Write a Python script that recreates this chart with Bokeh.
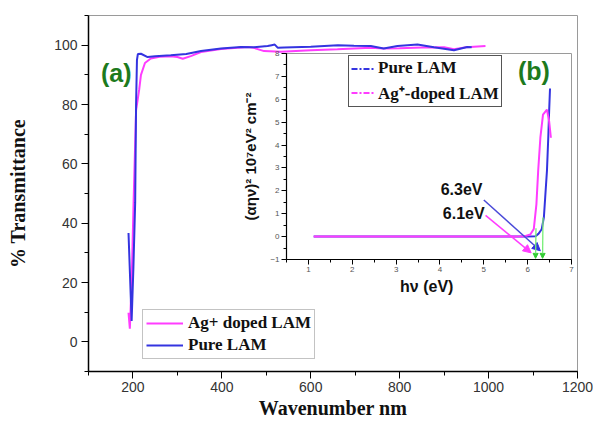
from bokeh.plotting import figure
from bokeh.models import (Range1d, SingleIntervalTicker, Legend, LegendItem, Label,
                          Arrow, NormalHead)
from bokeh.layouts import column
from bokeh.embed import file_html
from bokeh.resources import INLINE

# ---------------- main panel data (a) ----------------
pure_w = [190, 197, 201, 205, 207, 209, 211, 218, 233, 250, 285, 320, 353, 398, 443, 472,
          503, 512, 519, 526, 540, 600, 661, 697, 735, 764, 795, 840, 877, 922, 952, 962]
pure_t = [36.7, 7.0, 25.0, 47.0, 80.0, 95.0, 97.0, 97.1, 96.0, 96.3, 96.6, 97.0, 98.0, 98.9,
          99.4, 99.3, 99.7, 100.0, 100.2, 99.1, 99.2, 99.5, 100.0, 99.8, 99.7, 98.9, 99.7,
          100.2, 99.3, 98.3, 99.4, 99.3]
ag_w = [190, 193, 197, 201.5, 207, 211, 214, 218, 227, 240, 260, 285, 300, 312, 330, 353,
        398, 435, 458, 472, 495, 533, 600, 660, 735, 764, 800, 850, 900, 922, 950, 993]
ag_t = [9.8, 4.4, 20.0, 47.5, 78.0, 82.0, 85.0, 90.0, 94.0, 95.5, 96.1, 96.3, 96.0, 95.4,
        96.3, 97.7, 98.7, 99.1, 99.4, 99.1, 98.0, 97.8, 98.3, 98.6, 99.1, 98.9, 99.0, 99.2,
        99.3, 98.6, 99.3, 99.7]

# ---------------- inset data (b) ----------------
pure_e = [1.12, 2.0, 3.0, 4.0, 5.0, 6.0, 6.18, 6.25, 6.32, 6.37, 6.40, 6.44, 6.47, 6.49, 6.51]
pure_v = [0.0, 0.0, 0.0, 0.0, 0.0, 0.0, 0.02, 0.13, 0.32, 0.84, 1.71, 2.87, 4.32, 5.48, 6.47]
ag_e = [1.12, 2.0, 3.0, 4.0, 5.0, 5.9, 6.06, 6.14, 6.20, 6.24, 6.29, 6.35, 6.44, 6.49, 6.53]
ag_v = [0.0, 0.0, 0.0, 0.0, 0.0, 0.0, 0.09, 0.33, 1.42, 2.87, 4.32, 5.33, 5.55, 5.04, 4.32]

gap_labels = ["6.3eV", "6.1eV"]
gap_label_x = [4.97, 5.02]
gap_label_y = [2.07, 0.99]
arrow_x0 = [5.0, 5.04]
arrow_y0 = [1.6, 0.93]
arrow_x1 = [6.29, 6.08]
arrow_y1 = [-0.62, -0.71]
tan_x0 = [6.19, 6.35]
tan_y0 = [0.37, 0.84]
tan_x1 = [6.18, 6.34]
tan_y1 = [-0.95, -0.95]

BLUE = "#3434e0"
MAG = "#ff3cff"
GREEN = "#1d7a1d"
LGREEN = "#77ee77"

# ---------------- main figure ----------------
main = figure(width=593, height=425, output_backend="svg", toolbar_location=None,
              x_range=Range1d(100, 1200), y_range=Range1d(-10, 110),
              min_border_left=88, min_border_right=16, min_border_top=15,
              min_border_bottom=54)
main.xgrid.visible = False
main.ygrid.visible = False
main.outline_line_color = "#9a9a9a"
main.background_fill_color = "white"
main.border_fill_color = "white"

main.xaxis.ticker = SingleIntervalTicker(interval=200, num_minor_ticks=2)
main.yaxis.ticker = SingleIntervalTicker(interval=20, num_minor_ticks=2)
for ax in (main.xaxis[0], main.yaxis[0]):
    ax.axis_line_color = "black"
    ax.axis_line_width = 1.5
    ax.major_tick_line_color = "black"
    ax.minor_tick_line_color = "black"
    ax.major_tick_out = 7
    ax.major_tick_in = 0
    ax.minor_tick_out = 4
    ax.minor_tick_in = 0
    ax.major_label_text_font = "Liberation Sans"
    ax.major_label_text_font_size = "14px"
    ax.major_label_text_color = "#333333"
    ax.axis_label_text_font = "Liberation Serif"
    ax.axis_label_text_font_style = "bold"
    ax.axis_label_text_font_size = "20px"
    ax.axis_label_text_color = "#111111"
main.xaxis.axis_label = "Wavenumber nm"
main.yaxis.axis_label = "% Transmittance"
main.xaxis.major_label_standoff = 3
main.xaxis.axis_label_standoff = 2
main.yaxis.major_label_standoff = 4
main.yaxis.axis_label_standoff = 22

r_ag = main.line(ag_w, ag_t, line_color=MAG, line_width=2)
r_pure = main.line(pure_w, pure_t, line_color=BLUE, line_width=2)

leg_main = Legend(items=[LegendItem(label="Ag+ doped LAM", renderers=[r_ag]),
                         LegendItem(label="Pure LAM", renderers=[r_pure])],
                  location=(54, 12), orientation="vertical",
                  glyph_width=37, glyph_height=18, label_height=18, label_standoff=5,
                  spacing=2, padding=3, margin=0,
                  label_text_font="Liberation Serif", label_text_font_style="bold",
                  label_text_font_size="17px", label_text_color="#111111",
                  border_line_color="#888888", border_line_width=1,
                  background_fill_color="white", background_fill_alpha=1.0)
main.add_layout(leg_main)

main.add_layout(Label(x=128, y=90.6, text="(a)", text_align="left", text_baseline="middle",
                      text_font="Liberation Sans", text_font_style="bold",
                      text_font_size="25px", text_color=GREEN))

# ---------------- inset figure ----------------
inset = figure(width=389, height=256, output_backend="svg",
               toolbar_location=None,
               x_range=Range1d(0.5, 7), y_range=Range1d(-1, 8),
               min_border_left=60, min_border_right=5, min_border_top=5,
               min_border_bottom=45)
inset.xgrid.visible = False
inset.ygrid.visible = False
inset.outline_line_color = "#9a9a9a"
inset.background_fill_color = "white"
inset.border_fill_alpha = 0.0
inset.xaxis.ticker = SingleIntervalTicker(interval=1, num_minor_ticks=2)
inset.yaxis.ticker = SingleIntervalTicker(interval=1, num_minor_ticks=2)
for ax in (inset.xaxis[0], inset.yaxis[0]):
    ax.axis_line_color = "black"
    ax.axis_line_width = 1.2
    ax.major_tick_line_color = "black"
    ax.minor_tick_line_color = "black"
    ax.major_tick_out = 5
    ax.major_tick_in = 0
    ax.minor_tick_out = 3
    ax.minor_tick_in = 0
    ax.major_label_text_font = "Liberation Sans"
    ax.major_label_text_font_size = "8px"
    ax.major_label_text_color = "#555555"
    ax.major_label_standoff = 2
    ax.axis_label_text_font = "Liberation Sans"
    ax.axis_label_text_font_style = "bold"
    ax.axis_label_text_color = "#111111"
inset.xaxis.axis_label = "hν  (eV)"
inset.xaxis.axis_label_text_font_size = "16px"
inset.xaxis.axis_label_standoff = 3
inset.yaxis.axis_label = "(αην)² 10⁷eV² cm⁻²"
inset.yaxis.axis_label_text_font_size = "15px"
inset.yaxis.axis_label_standoff = 8

inset.line(pure_e, pure_v, line_color=BLUE, line_width=2)
inset.line(ag_e, ag_v, line_color=MAG, line_width=2)

# legend-only dash-dot samples (placed outside the visible range)
d_pure = inset.line([-5, -4], [-5, -5], line_color=BLUE, line_width=2, line_dash="6 2 2 2")
d_ag = inset.line([-5, -4], [-5, -5], line_color=MAG, line_width=2, line_dash="6 2 2 2")
leg_in = Legend(items=[LegendItem(label="Pure LAM", renderers=[d_pure]),
                       LegendItem(label="Ag⁺-doped LAM", renderers=[d_ag])],
                location=(62, 152), orientation="vertical",
                glyph_width=23, glyph_height=19, label_height=19, label_standoff=4,
                spacing=3, padding=2, margin=0,
                label_text_font="Liberation Serif", label_text_font_style="bold",
                label_text_font_size="17px", label_text_color="#111111",
                border_line_color="#555555", border_line_width=1.5, border_line_alpha=1.0,
                background_fill_color="white", background_fill_alpha=1.0)
inset.add_layout(leg_in)

for i, col in enumerate([BLUE, MAG]):
    inset.add_layout(Arrow(x_start=arrow_x0[i], y_start=arrow_y0[i],
                           x_end=arrow_x1[i], y_end=arrow_y1[i],
                           line_color="#4a4ad8" if i == 0 else MAG, line_width=1.5,
                           end=NormalHead(size=8, fill_color=col, line_color=col)))
for i in range(2):
    inset.add_layout(Arrow(x_start=tan_x0[i], y_start=tan_y0[i],
                           x_end=tan_x1[i], y_end=tan_y1[i],
                           line_color=LGREEN, line_width=1.3,
                           end=NormalHead(size=5, fill_color="#33cc33",
                                          line_color="#33cc33")))
for i in range(2):
    inset.add_layout(Label(x=gap_label_x[i], y=gap_label_y[i], text=gap_labels[i],
                           text_align="right", text_baseline="middle",
                           text_font="Liberation Sans", text_font_style="bold",
                           text_font_size="16px", text_color="#111111"))
inset.add_layout(Label(x=5.78, y=7.22, text="(b)", text_align="left",
                       text_baseline="middle", text_font="Liberation Sans",
                       text_font_style="bold", text_font_size="25px", text_color=GREEN))

inset.styles = {"position": "absolute", "left": "198px", "top": "48px", "z-index": "2",
                "width": "389px", "height": "256px"}
root = column(main, inset, styles={"position": "relative"})

open("out.html", "w").write(file_html(root, INLINE))
